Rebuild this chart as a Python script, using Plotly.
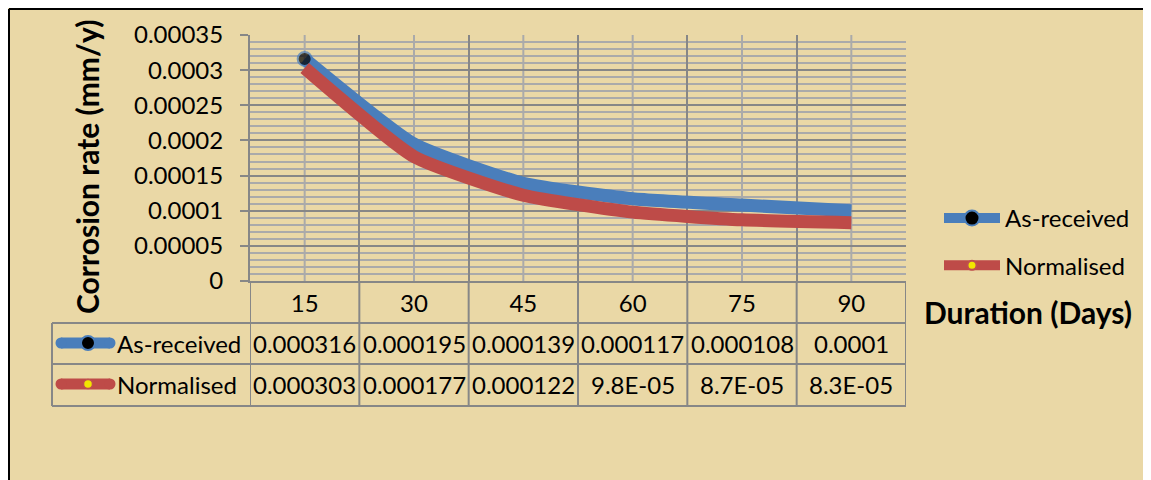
import plotly.graph_objects as go

# ---- data ----
durations = ["15", "30", "45", "60", "75", "90"]
as_received = [0.000316, 0.000195, 0.000139, 0.000117, 0.000108, 0.0001]
normalised = [0.000303, 0.000177, 0.000122, 0.000098, 0.000087, 0.000083]
series_names = ["As-received", "Normalised"]
y_tickvals = [0, 0.00005, 0.0001, 0.00015, 0.0002, 0.00025, 0.0003, 0.00035]
y_ticktext = ["0", "0.00005", "0.0001", "0.00015", "0.0002", "0.00025", "0.0003", "0.00035"]

# ---- style ----
PARCH = "#EAD8A6"
BLUE = "#4A7EBB"
RED = "#BE4B48"
GMAJ = "#878787"
GMIN = "#AAAAAA"
FONT = "Lato"
FS = 24

OFF = 8  # page body margin
W_FIG, H_FIG = 1147 - OFF, 480 - OFF
# plot area in page pixels
L, R, T, B = 250, 906, 35, 281
PW, PH = R - L, B - T


def px(X):
    return (X - L) / PW


def py(Y):
    return (B - Y) / PH


def fmt(v):
    if v != 0 and abs(v) < 1e-4:
        return f"{v:.1E}"
    return f"{v:.6f}".rstrip("0").rstrip(".")


fig = go.Figure()

# data traces
fig.add_trace(go.Scatter(
    x=durations, y=as_received, mode="lines+markers", name=series_names[0],
    line=dict(color=BLUE, width=13, shape="spline", smoothing=0.5),
    marker=dict(size=[14, 0, 0, 0, 0, 0], color="black", line=dict(color=BLUE, width=2)),
    showlegend=False, cliponaxis=False))
fig.add_trace(go.Scatter(
    x=durations, y=normalised, mode="lines", name=series_names[1],
    line=dict(color=RED, width=13, shape="spline", smoothing=0.5),
    showlegend=False, cliponaxis=False))

# legend entries
fig.add_trace(go.Scatter(
    x=[None], y=[None], mode="lines+markers", name=series_names[0], legendgroup="a",
    line=dict(color=BLUE, width=12),
    marker=dict(size=15, color="black", line=dict(color=BLUE, width=2))))
fig.add_trace(go.Scatter(
    x=[None], y=[None], mode="lines+markers", name=series_names[1], legendgroup="b",
    line=dict(color=RED, width=12),
    marker=dict(size=9, color="#F2E600", line=dict(color="#C0504D", width=2))))

idx = list(range(len(durations)))

shapes = []
# background fill and top/left frame lines
shapes.append(dict(type="rect", xref="paper", yref="paper", layer="below",
                   x0=px(OFF), x1=px(1200), y0=py(560), y1=py(OFF),
                   fillcolor=PARCH, line=dict(width=0)))
shapes.append(dict(type="line", xref="paper", yref="paper", layer="below",
                   x0=px(OFF + 1), x1=px(1200), y0=py(OFF + 1), y1=py(OFF + 1),
                   line=dict(color="black", width=2)))
shapes.append(dict(type="line", xref="paper", yref="paper", layer="below",
                   x0=px(OFF + 1), x1=px(OFF + 1), y0=py(OFF + 1), y1=py(560),
                   line=dict(color="black", width=2)))
# light vertical lines at category centers
for i in idx:
    shapes.append(dict(type="line", xref="x", yref="paper", layer="below",
                       x0=i, x1=i, y0=0, y1=1, line=dict(color=GMIN, width=2)))
# table column separators (category boundaries) extending below the plot
for i in range(len(durations) + 1):
    shapes.append(dict(type="line", xref="x", yref="paper", layer="above",
                       x0=i - 0.5, x1=i - 0.5, y0=py(406), y1=0,
                       line=dict(color=GMAJ, width=2)))
# table horizontal rules
for Y in (323, 364, 406):
    shapes.append(dict(type="line", xref="paper", yref="paper",
                       x0=px(52), x1=px(906), y0=py(Y), y1=py(Y),
                       line=dict(color=GMAJ, width=2)))
shapes.append(dict(type="line", xref="paper", yref="paper",
                   x0=px(52), x1=px(52), y0=py(323), y1=py(406),
                   line=dict(color=GMAJ, width=2)))

# table legend keys
for Yc, col in ((343, BLUE), (384, RED)):
    shapes.append(dict(type="line", xref="paper", yref="paper",
                       x0=px(61), x1=px(110), y0=py(Yc), y1=py(Yc),
                       line=dict(color=col, width=11)))
    for Xe in (61, 110):
        shapes.append(dict(type="circle", xref="paper", yref="paper",
                           x0=px(Xe - 5.5), x1=px(Xe + 5.5), y0=py(Yc + 5.5), y1=py(Yc - 5.5),
                           fillcolor=col, line=dict(width=0)))
shapes.append(dict(type="circle", xref="paper", yref="paper",
                   x0=px(81), x1=px(95), y0=py(350), y1=py(336),
                   fillcolor="black", line=dict(color=BLUE, width=2)))
shapes.append(dict(type="circle", xref="paper", yref="paper",
                   x0=px(83.5), x1=px(92.5), y0=py(388.5), y1=py(379.5),
                   fillcolor="#F2E600", line=dict(color="#C0504D", width=1.5)))

annotations = []
annotations.append(dict(text="<b>Corrosion rate (mm/y)</b>", xref="paper", yref="paper",
                        x=px(87), y=py(167), textangle=-90, showarrow=False,
                        xanchor="center", yanchor="middle",
                        font=dict(family=FONT, size=30, color="black")))
annotations.append(dict(text="<b>Duration (Days)</b>", xref="paper", yref="paper",
                        x=px(1028), y=py(312), showarrow=False,
                        xanchor="center", yanchor="middle",
                        font=dict(family=FONT, size=30, color="black")))
for name, Yc in zip(series_names, (343, 384)):
    annotations.append(dict(text=name, xref="paper", yref="paper", x=px(115), y=py(Yc),
                            showarrow=False, xanchor="left", yanchor="middle",
                            font=dict(family=FONT, size=FS, color="black")))
for vals, Yc in ((as_received, 343), (normalised, 384)):
    for i, v in zip(idx, vals):
        annotations.append(dict(text=fmt(v), xref="x", yref="paper", x=i, y=py(Yc),
                                showarrow=False, xanchor="center", yanchor="middle",
                                font=dict(family=FONT, size=FS, color="black")))

fig.update_layout(
    width=W_FIG, height=H_FIG,
    margin=dict(l=L - OFF, r=(W_FIG + OFF) - R, t=T - OFF, b=(H_FIG + OFF) - B, autoexpand=False),
    paper_bgcolor="white", plot_bgcolor="rgba(0,0,0,0)",
    font=dict(family=FONT, size=FS, color="black"),
    shapes=shapes, annotations=annotations,
    legend=dict(x=px(939), y=py(196), xanchor="left", yanchor="top",
                bgcolor="rgba(0,0,0,0)", itemwidth=56, traceorder="grouped",
                tracegroupgap=13, font=dict(family=FONT, size=FS, color="black")),
)
fig.update_xaxes(type="category", categoryorder="array", categoryarray=durations,
                 range=[-0.5, len(durations) - 0.5], tickson="boundaries",
                 showgrid=True, gridcolor=GMAJ, gridwidth=2,
                 showline=True, linecolor=GMAJ, linewidth=2,
                 ticks="outside", ticklen=5, tickcolor="rgba(0,0,0,0)",
                 tickfont=dict(family=FONT, size=FS, color="black"), fixedrange=True)
fig.update_yaxes(range=[0, 0.00035], tickvals=y_tickvals, ticktext=y_ticktext,
                 showgrid=True, gridcolor=GMAJ, gridwidth=2,
                 minor=dict(dtick=0.00001, showgrid=True, gridcolor=GMIN, gridwidth=2, ticks=""),
                 showline=True, linecolor=GMAJ, linewidth=2,
                 ticks="outside", ticklen=8, tickcolor=GMAJ, tickwidth=2,
                 ticklabelstandoff=12, zeroline=False,
                 tickfont=dict(family=FONT, size=FS, color="black"), fixedrange=True)

fig.write_html("out.html")
